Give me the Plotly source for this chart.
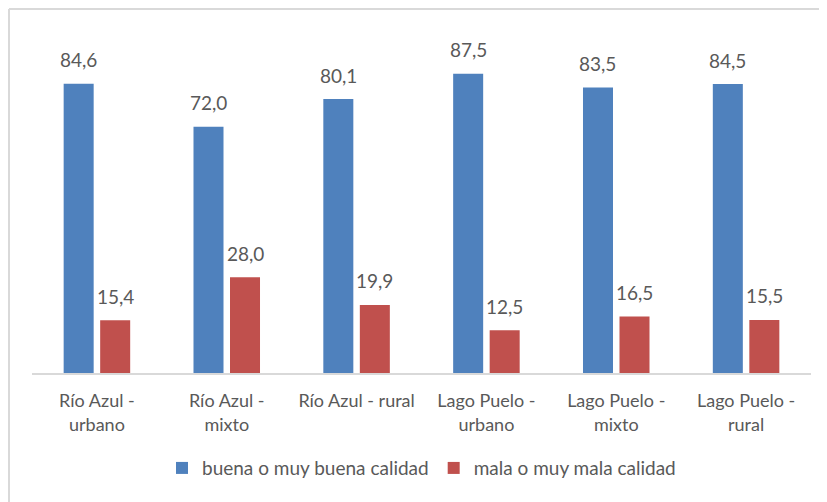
import plotly.graph_objects as go

categories = ["Río Azul -<br>urbano", "Río Azul -<br>mixto", "Río Azul - rural",
              "Lago Puelo -<br>urbano", "Lago Puelo -<br>mixto", "Lago Puelo -<br>rural"]
buena = [84.6, 72.0, 80.1, 87.5, 83.5, 84.5]
mala = [15.4, 28.0, 19.9, 12.5, 16.5, 15.5]
series_names = ["buena o muy buena calidad", "mala o muy mala calidad"]
colors = ["#4F81BD", "#C0504D"]

FONT = "Lato"
GRAY = "#595959"

# figure geometry (page body adds an 8px offset)
W, H = 819, 494
ML, MR, MT, MB = 24, 16, 23, 129
BARGAP, GROUPGAP = 0.4376, 0.178
plot_w = W - ML - MR
plot_h = H - MT - MB
cat_px = plot_w / len(categories)
slot_px = cat_px * (1 - BARGAP) / 2

fig = go.Figure()
series = [buena, mala]
annotations = []
for i, (vals, name, col) in enumerate(zip(series, series_names, colors)):
    fig.add_trace(go.Bar(x=categories, y=vals, name=name, marker_color=col,
                         marker_line_width=0))
    shift = (i - 0.5) * slot_px
    for c, v in zip(categories, vals):
        annotations.append(dict(x=c, y=v, xref="x", yref="y", text=f"{v:.1f}".replace(".", ","),
                                showarrow=False, xshift=shift, yshift=24,
                                yanchor="middle", xanchor="center",
                                font=dict(family=FONT, size=19, color=GRAY)))

bx = (1 - ML) / plot_w
by = 1 + (MT - 1) / plot_h

fig.update_layout(
    width=W, height=H,
    margin=dict(l=ML, r=MR, t=MT, b=MB),
    paper_bgcolor="white", plot_bgcolor="white",
    barmode="group", bargap=BARGAP, bargroupgap=GROUPGAP,
    font=dict(family=FONT, size=18, color=GRAY),
    xaxis=dict(showline=True, linecolor="#D9D9D9", linewidth=1.5, ticks="",
               ticklabelstandoff=11,
               tickfont=dict(family=FONT, size=18, color=GRAY), fixedrange=True),
    yaxis=dict(range=[0, 100], visible=False, showgrid=False, fixedrange=True),
    legend=dict(orientation="h", x=0.5, xanchor="center", y=-0.278, yanchor="middle",
                font=dict(family=FONT, size=19, color=GRAY), traceorder="normal"),
    showlegend=True,
    annotations=annotations,
    shapes=[
        dict(type="line", xref="paper", yref="paper", x0=bx, x1=1 + MR / plot_w,
             y0=by, y1=by, line=dict(color="#D9D9D9", width=2)),
        dict(type="line", xref="paper", yref="paper", x0=bx, x1=bx,
             y0=-MB / plot_h, y1=by, line=dict(color="#D9D9D9", width=2)),
    ],
)

fig.write_html("out.html")
